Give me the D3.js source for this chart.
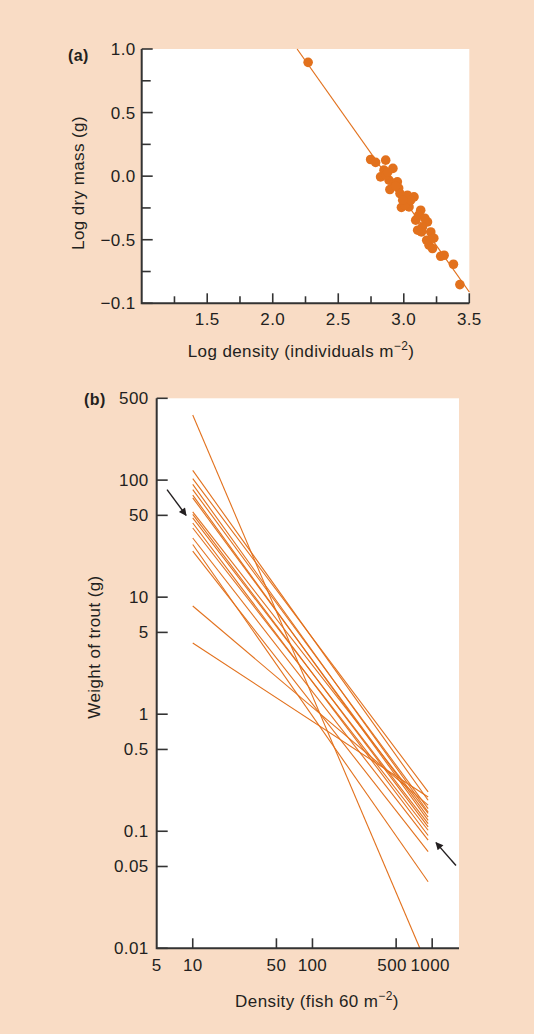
<!DOCTYPE html>
<html>
<head>
<meta charset="utf-8">
<script src="https://cdn.jsdelivr.net/npm/d3@7"></script>
<style>
  body { margin: 0; background: #f9dcc5; }
  text { font-family: "Liberation Sans", Arial, sans-serif; fill: #231f20; letter-spacing: 0.4px; }
</style>
</head>
<body>
<svg id="mainsvg" width="534" height="1034"></svg>
<script>
// ---- panel (a): log dry mass vs log density
const logDensity = [2.27, 2.747, 2.785, 2.862, 2.917, 2.823, 2.849, 2.887, 2.925, 2.951,
  2.894, 2.971, 3.028, 3.078, 2.982, 3.04, 3.129, 3.091, 3.181, 3.142,
  3.206, 3.135, 3.193, 3.219, 3.282, 3.308, 3.379, 3.428, 3.007, 3.053,
  2.961, 2.862, 2.877, 3.114, 3.16, 3.106, 2.938, 2.992, 3.175, 3.229]
const logMass = [0.895, 0.131, 0.108, 0.126, 0.061, -0.006, 0.047, -0.031, -0.057, -0.045,
  -0.105, -0.137, -0.15, -0.163, -0.246, -0.242, -0.268, -0.346, -0.36, -0.399,
  -0.439, -0.439, -0.543, -0.569, -0.63, -0.622, -0.693, -0.853, -0.228, -0.189,
  -0.094, 0.008, 0.031, -0.307, -0.331, -0.425, -0.079, -0.189, -0.504, -0.488]
const fitX = [2.186, 3.5]
const fitY = [1.0, -0.911]
const xTicksA = [1.25, 1.5, 1.75, 2.0, 2.25, 2.5, 2.75, 3.0, 3.25, 3.5]
const xLabelsA = { 1.5: "1.5", 2: "2.0", 2.5: "2.5", 3: "3.0", 3.5: "3.5" }
const yTicksA = [1.0, 0.75, 0.5, 0.25, 0, -0.25, -0.5, -0.75, -1.0]
const yLabelsA = { 1: "1.0", 0.5: "0.5", 0: "0.0", "-0.5": "\u22120.5", "-1": "\u22120.1" }

// ---- panel (b): trout weight vs density, one line per year class
const startDensity = [10, 10, 10, 10, 10, 10, 10, 10, 10, 10, 10, 10, 10, 10, 10, 10, 10]
const startWeight = [360, 121, 103, 92, 83, 74.5, 70.6, 53.5, 51, 47.6, 43, 39, 32, 28.2, 24.7, 8.4, 4.06]
const endDensity = [789, 925, 925, 925, 925, 925, 925, 925, 925, 925, 925, 925, 925, 925, 925, 925, 925]
const endWeight = [0.01, 0.184, 0.217, 0.146, 0.156, 0.124, 0.132, 0.142, 0.109, 0.116, 0.092, 0.102, 0.084, 0.037, 0.067, 0.167, 0.196]
const xTicksB = [10, 50, 100, 500, 1000]
const xLabelsB = [5, 10, 50, 100, 500, 1000]
const yTicksB = [500, 100, 50, 10, 5, 1, 0.5, 0.1, 0.05, 0.01]
// arrows [tailX, tailY, headX, headY] in data units
const arrows = [[6.1, 83, 8.8, 50], [1580, 0.051, 1076, 0.08]]

const orange = "#e2711d"
const axisCol = "#333"
const fs = 17

const svg = d3.select('#mainsvg')

svg.append("defs").append("marker")
  .attr("id", "arrowhead").attr("viewBox", "0 0 10 10")
  .attr("refX", 9).attr("refY", 5)
  .attr("markerWidth", 6.5).attr("markerHeight", 5.5)
  .attr("markerUnits", "strokeWidth")
  .attr("orient", "auto")
  .append("path").attr("d", "M0,0 L10,5 L0,10 z").attr("fill", "#231f20")

// ======== panel (a)
const xA = d3.scaleLinear().domain([1, 3.5]).range([141.7, 469.3])
const yA = d3.scaleLinear().domain([-1, 1]).range([303.3, 49])

const gA = svg.append("g")
gA.append("rect").attr("x", xA(1)).attr("y", yA(1))
  .attr("width", xA(3.5) - xA(1)).attr("height", yA(-1) - yA(1)).attr("fill", "#fff")

gA.append("line").attr("x1", xA(fitX[0])).attr("y1", yA(fitY[0]))
  .attr("x2", xA(fitX[1])).attr("y2", yA(fitY[1]))
  .attr("stroke", orange).attr("stroke-width", 1.2)

logDensity.forEach((d, i) => {
  gA.append("circle").attr("cx", xA(d)).attr("cy", yA(logMass[i]))
    .attr("r", 4.8).attr("fill", orange)
})

// y axis (ticks pointing inward)
gA.selectAll(".ytA").data(yTicksA).join("line")
  .attr("x1", xA(1)).attr("x2", d => xA(1) + (yLabelsA[d] !== undefined ? 11 : 9))
  .attr("y1", d => yA(d)).attr("y2", d => yA(d))
  .attr("stroke", axisCol).attr("stroke-width", 1.6)
gA.selectAll(".ylA").data(yTicksA.filter(d => yLabelsA[d] !== undefined)).join("text")
  .attr("x", xA(1) - 6).attr("y", d => yA(d) + 6)
  .attr("text-anchor", "end").attr("font-size", fs).text(d => yLabelsA[d])

// x axis
gA.selectAll(".xtA").data(xTicksA).join("line")
  .attr("x1", d => xA(d)).attr("x2", d => xA(d))
  .attr("y1", yA(-1)).attr("y2", d => yA(-1) - (xLabelsA[d] ? 10 : 7))
  .attr("stroke", axisCol).attr("stroke-width", 1.6)
gA.selectAll(".xlA").data(xTicksA.filter(d => xLabelsA[d])).join("text")
  .attr("x", d => xA(d)).attr("y", 325)
  .attr("text-anchor", "middle").attr("font-size", fs).text(d => xLabelsA[d])

gA.append("path").attr("d", `M${xA(1)},${yA(1)} V${yA(-1)} H${xA(3.5)}`)
  .attr("fill", "none").attr("stroke", axisCol).attr("stroke-width", 2)

gA.append("text").attr("x", 68).attr("y", 61).attr("font-size", 16)
  .attr("font-weight", "bold").text("(a)")
gA.append("text").attr("transform", "translate(84,183) rotate(-90)")
  .attr("text-anchor", "middle").attr("font-size", fs).text("Log dry mass (g)")
const tA = gA.append("text").attr("x", 301).attr("y", 357)
  .attr("text-anchor", "middle").attr("font-size", fs)
tA.append("tspan").text("Log density (individuals m")
tA.append("tspan").attr("dy", -7).attr("font-size", 12).text("\u22122")
tA.append("tspan").attr("dy", 7).text(")")

// ======== panel (b)
const xB = d3.scaleLog().domain([5, 1675]).range([156.7, 459])
const yB = d3.scaleLog().domain([0.01, 500]).range([948.3, 398.3])

const gB = svg.append("g")
gB.append("rect").attr("x", xB(5)).attr("y", yB(500))
  .attr("width", xB(1675) - xB(5)).attr("height", yB(0.01) - yB(500)).attr("fill", "#fff")

startWeight.forEach((w, i) => {
  gB.append("line")
    .attr("x1", xB(startDensity[i])).attr("y1", yB(w))
    .attr("x2", xB(endDensity[i])).attr("y2", yB(endWeight[i]))
    .attr("stroke", orange).attr("stroke-width", 1.1)
})

gB.selectAll(".ytB").data(yTicksB).join("line")
  .attr("x1", xB(5)).attr("x2", xB(5) + 11)
  .attr("y1", d => yB(d)).attr("y2", d => yB(d))
  .attr("stroke", axisCol).attr("stroke-width", 1.6)
gB.selectAll(".ylB").data(yTicksB).join("text")
  .attr("x", xB(5) - 8).attr("y", d => yB(d) + 6)
  .attr("text-anchor", "end").attr("font-size", fs).text(d => d)

gB.selectAll(".xtB").data(xTicksB).join("line")
  .attr("x1", d => xB(d)).attr("x2", d => xB(d))
  .attr("y1", yB(0.01)).attr("y2", yB(0.01) - 10)
  .attr("stroke", axisCol).attr("stroke-width", 1.6)
gB.selectAll(".xlB").data(xLabelsB).join("text")
  .attr("x", d => xB(d) + (d === 500 ? -4 : d === 1000 ? -2 : 0)).attr("y", 971)
  .attr("text-anchor", "middle").attr("font-size", fs).text(d => d)

gB.append("path").attr("d", `M${xB(5)},${yB(500)} V${yB(0.01)} H${xB(1675)}`)
  .attr("fill", "none").attr("stroke", axisCol).attr("stroke-width", 2)

arrows.forEach(a => {
  gB.append("line")
    .attr("x1", xB(a[0])).attr("y1", yB(a[1]))
    .attr("x2", xB(a[2])).attr("y2", yB(a[3]))
    .attr("stroke", "#231f20").attr("stroke-width", 1.4)
    .attr("marker-end", "url(#arrowhead)")
})

gB.append("text").attr("x", 84).attr("y", 405).attr("font-size", 16)
  .attr("font-weight", "bold").text("(b)")
gB.append("text").attr("transform", "translate(100,647) rotate(-90)")
  .attr("text-anchor", "middle").attr("font-size", fs).text("Weight of trout (g)")
const tB = gB.append("text").attr("x", 317).attr("y", 1007)
  .attr("text-anchor", "middle").attr("font-size", fs)
tB.append("tspan").text("Density (fish 60 m")
tB.append("tspan").attr("dy", -7).attr("font-size", 12).text("\u22122")
tB.append("tspan").attr("dy", 7).text(")")
</script>
</body>
</html>
